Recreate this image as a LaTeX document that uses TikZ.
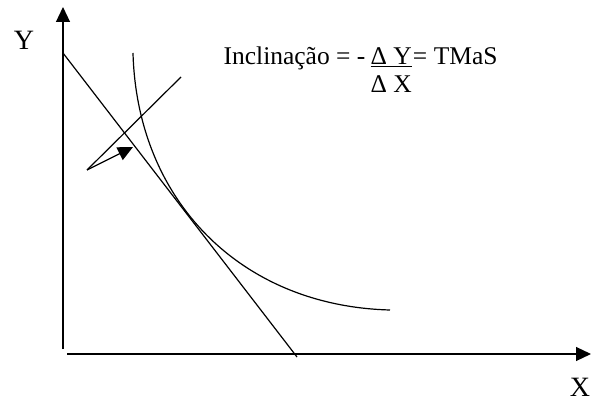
\documentclass[tikz,border=0pt]{standalone}
\usepackage{fontspec}
\setmainfont{Liberation Serif}
\usetikzlibrary{arrows.meta,positioning}

\begin{document}
\begin{tikzpicture}[>={Triangle[length=15pt,width=14pt]},x=1pt,y=-1pt,line width=1.2pt]
\tikzset{ax/.style={font=\fontsize{28}{32}\selectfont,inner sep=0pt},eq/.style={font=\fontsize{25.5}{30}\selectfont,inner sep=0pt,anchor=base west}}
\useasboundingbox (0,0) rectangle (595,401);
% axes
\coordinate (ybot) at (63,349); \coordinate (ytop) at (63,7);
\coordinate (xl) at (67,354); \coordinate (xr) at (591,354);
\draw[->](ybot)--(ytop); \draw[->](xl)--(xr);
\node[ax,anchor=base] (ylab) at (24,50) {Y}; \node[ax,anchor=base] (xlab) at (580,396) {X};
% budget line, indifference curve, tangent
\coordinate (l1) at (63,53); \coordinate (l2) at (297,357);
\draw (l1)--(l2);
\coordinate (c1) at (133,53); \coordinate (c2) at (390,310);
\draw (c1) .. controls (137,200) and (240,306) .. (c2);
\coordinate (s1) at (87,170); \coordinate (s2) at (181,77); \coordinate (s3) at (133,147);
\draw (s1)--(s2); \draw[->](s1)--(s3);
% slope label
\node[eq] (incl) at (223,65) {Inclinação = -};
\node[eq] (dy) at ([xshift=4pt]incl.base east) {\underline{Δ Y}};
\node[eq] (tmas) at (dy.base east) {= TMaS};
\node[eq,anchor=base] (dx) at ([yshift=-28pt]dy.base) {Δ X};
\end{tikzpicture}
\end{document}
